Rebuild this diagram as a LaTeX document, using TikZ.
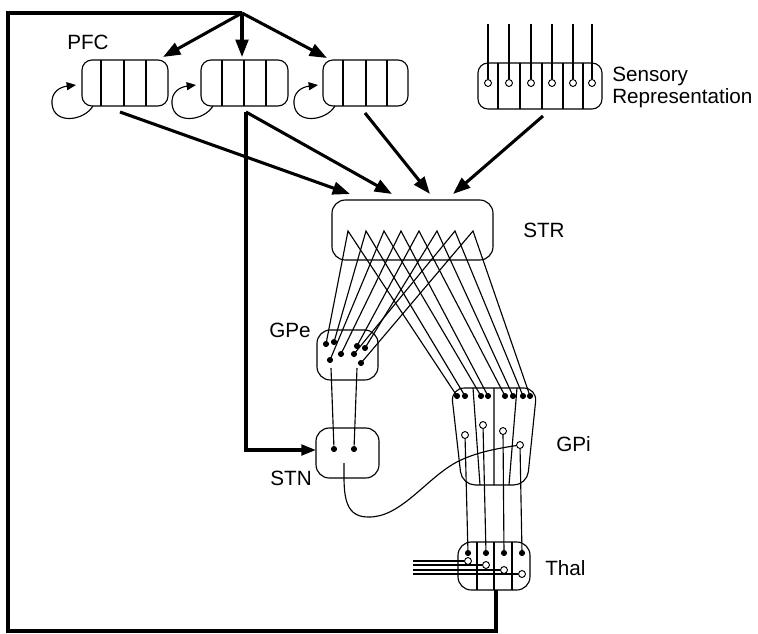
\documentclass[tikz,border=0pt]{standalone}
\usepackage{fontspec}
\setmainfont{Liberation Sans}
\usetikzlibrary{arrows.meta}
\begin{document}
\begin{tikzpicture}[x=0.75pt,y=-0.75pt,
  thinline/.style={line width=0.85pt},
  thickline/.style={line width=2.3pt},
  bigarrow/.style={thickline,-{Triangle[length=13pt,width=9.5pt]}},
  looparrow/.style={line width=0.85pt,-{Triangle[length=7pt,width=6pt]}},
  box/.style={line width=0.85pt, rounded corners=7.5pt},
  fdot/.style={circle, fill, inner sep=0pt, minimum size=4.6pt},
  odot/.style={circle, draw, fill=white, line width=0.7pt, inner sep=0pt, minimum size=5.2pt},
  lab/.style={font=\fontsize{15.5}{17}\selectfont, inner sep=0pt}
]
\useasboundingbox (0,0) rectangle (758,633);

% ---------- labels
\node[lab, anchor=base west] (pfclab) at (67,49) {PFC};
\node[lab, anchor=base west] (sens1) at (612,81) {Sensory};
\node[lab, anchor=base west] (sens2) at (612,103) {Representation};
\node[lab, anchor=base west] (strlab) at (523,237) {STR};
\node[lab, anchor=base east] (gpelab) at (311,337) {GPe};
\node[lab, anchor=base east] (stnlab) at (312,485) {STN};
\node[lab, anchor=base west] (gpilab) at (556,451) {GPi};
\node[lab, anchor=base west] (thallab) at (545,575) {Thal};

% ---------- PFC boxes
\draw[box] (82,60) rectangle (168,106);
\draw[thinline] (101,60)--(101,106) (124,60)--(124,106) (146,60)--(146,106);
\draw[box] (201,60) rectangle (288,106);
\draw[thinline] (222,60)--(222,106) (244,60)--(244,106) (266,60)--(266,106);
\draw[box] (323,60) rectangle (408,106);
\draw[thinline] (343,60)--(343,106) (366,60)--(366,106) (387,60)--(387,106);

% self loops
\foreach \dx in {0,120,242}{
  \begin{scope}[xshift=\dx*0.75pt]
    \coordinate (ls) at (93,106);
    \coordinate (le) at (76,85);
    \draw[looparrow] (ls) .. controls (84,121) and (54,125) .. (52,104)
                          .. controls (51,92) and (60,87) .. (le);
  \end{scope}
}

% ---------- Sensory representation
\draw[box] (478,63) rectangle (602,109);
\foreach \x in {498,520,542,563,583} \draw[thinline] (\x,63)--(\x,109);
\foreach \x [count=\i] in {488,509,531,552,573,592}{
  \coordinate (st\i) at (\x,24);
  \node[odot] (sc\i) at (\x,83) {};
  \draw[thinline] (sc\i.north) -- (st\i);
}

% ---------- feedback loop and PFC arrows
\coordinate (apex) at (242,13);
\coordinate (p1in) at (163,57);
\coordinate (p2in) at (242,57);
\coordinate (p3in) at (327,58);
\coordinate (thalout) at (496,590);
\coordinate (fbr) at (496,631);
\coordinate (fbl) at (8,631);
\coordinate (fbt) at (8,13);
\draw[thickline, line join=miter] (thalout) -- (fbr) -- (fbl) -- (fbt) -- (apex);
\draw[bigarrow] (apex) -- (p1in);
\draw[bigarrow] (apex) -- (p2in);
\draw[bigarrow] (apex) -- (p3in);

% ---------- STR
\draw[box, rounded corners=10pt] (332,200) rectangle (493,260);
\coordinate (p1out) at (120,112);
\coordinate (p2out) at (246,112);
\coordinate (p3out) at (365,113);
\coordinate (sout) at (543,116);
\coordinate (str1) at (350,194);
\coordinate (str2) at (392,194);
\coordinate (str3) at (430,194);
\coordinate (str4) at (453,194);
\draw[bigarrow] (p1out) -- (str1);
\draw[bigarrow] (p2out) -- (str2);
\draw[bigarrow] (p3out) -- (str3);
\draw[bigarrow] (sout) -- (str4);

% hyperdirect PFC -> STN
\coordinate (hcorner) at (246,450);
\coordinate (stnin) at (316,450);
\draw[thickline, line join=miter, -{Triangle[length=11pt,width=8pt]}] (p2out) -- (hcorner) -- (stnin);

% ---------- GPe, STN
\draw[box, rounded corners=10pt] (317,330) rectangle (378,380);
\draw[box, rounded corners=10pt] (316,428) rectangle (379,478);

% ---------- GPi
\draw[box, rounded corners=10pt] (451,388) -- (537,388) -- (527,485) -- (462,485) -- cycle;
\draw[thinline] (473,388)--(480,485) (494,388)--(494,485) (517,388)--(509,485);

% ---------- Thal
\draw[box, rounded corners=10pt] (458,542) rectangle (530,590);
\draw[thinline] (477,542)--(477,590) (494,542)--(494,590) (512,542)--(512,590);

% STR apexes and legs
\foreach \a/\ex/\ey/\gx [count=\i] in {348/326/344/457, 366/334/342/465, 384/330/360/481, 401/341/354/488, 419/357/346/505, 437/365/348/513, 455/354/354/523, 473/361/363/530}{
  \coordinate (ap\i) at (\a,231);
  \coordinate (ge\i) at (\ex,\ey);
  \coordinate (gi\i) at (\gx,396);
  \draw[thinline] (ge\i) -- (ap\i) -- (gi\i);
}
\foreach \i in {1,...,8}{
  \node[fdot] at (ge\i) {};
  \node[fdot] at (gi\i) {};
}

% GPe -> STN
\coordinate (geo1) at (331,368);
\coordinate (geo2) at (357,368);
\node[fdot] (stn1) at (334,449) {};
\node[fdot] (stn2) at (354,449) {};
\draw[thinline] (geo1) -- (stn1);
\draw[thinline] (geo2) -- (stn2);

% GPi open units -> Thal
\foreach \cx/\cy/\tx [count=\i] in {465/435/468, 483/425/486, 503/431/504, 520/445/522}{
  \coordinate (td\i) at (\tx,553);
  \coordinate (gc\i) at (\cx,\cy);
  \draw[thinline] (gc\i) -- (td\i);
}
% STN -> GPi curve
\coordinate (stnout) at (344,463);
\draw[thinline] (stnout) .. controls (344,490) and (342,517) .. (368,517)
   .. controls (400,518) and (425,480) .. (455,463)
   .. controls (475,452) and (500,448) .. (gc4);
\foreach \i in {1,...,4}{
  \node[odot] at (gc\i) {};
  \node[fdot] at (td\i) {};
}

% Thal side inputs
\foreach \y/\x [count=\i] in {561/468, 565/486, 570/504, 574/522}{
  \coordinate (tin\i) at (413,\y);
  \node[odot] (tc\i) at (\x,\y) {};
  \draw[thinline] (tin\i) -- (tc\i.west);
}
\end{tikzpicture}
\end{document}
